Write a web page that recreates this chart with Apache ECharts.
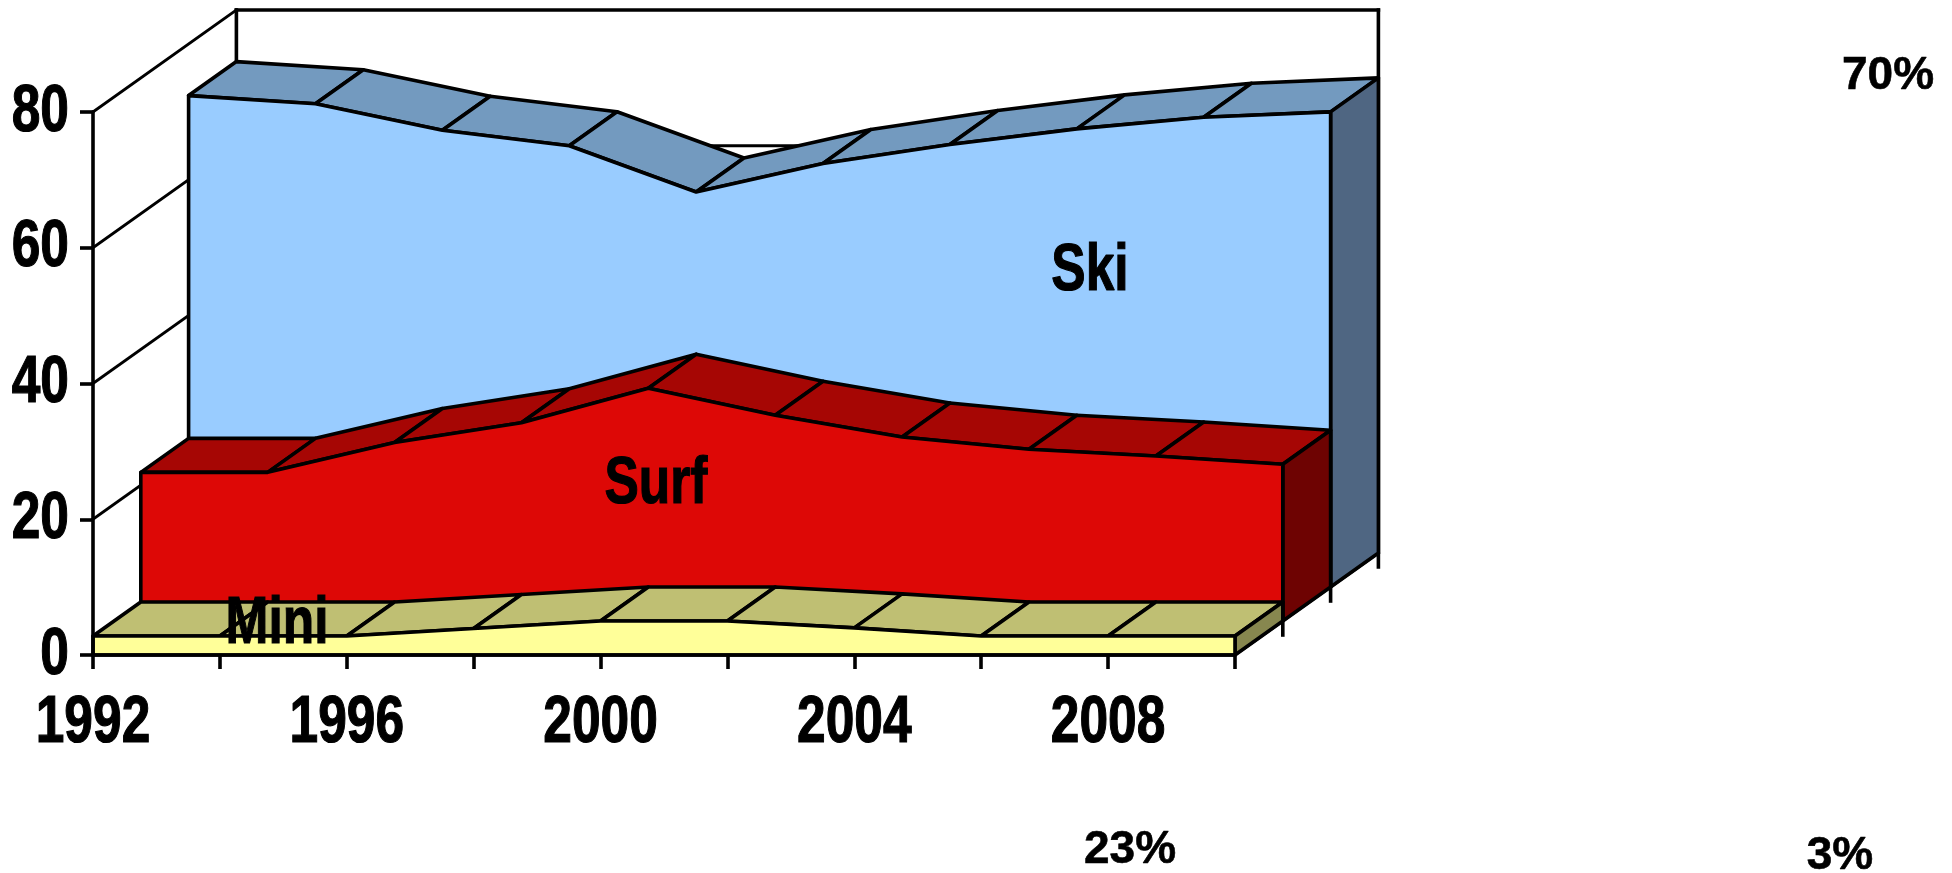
<!DOCTYPE html>
<html>
<head>
<meta charset="utf-8">
<style>html,body{margin:0;padding:0;background:#fff}#c{width:1952px;height:873px}</style>
<script src="https://cdn.jsdelivr.net/npm/echarts@6/dist/echarts.min.js"></script>
</head>
<body>
<div id="c"></div>
<script>
var years = ['1992','1994','1996','1998','2000','2002','2004','2006','2008','2010'];
var xTickLabels = ['1992','','1996','','2000','','2004','','2008',''];
var yTicks = [0, 20, 40, 60, 80];
var ski  = [72.4, 71.2, 67.3, 65.0, 58.2, 62.4, 65.2, 67.5, 69.2, 70.0];
var surf = [21.9, 21.9, 26.3, 29.2, 34.3, 30.3, 27.1, 25.3, 24.3, 23.1];
var mini = [2.8, 2.8, 2.8, 3.9, 5.0, 5.0, 4.0, 2.8, 2.8, 2.8];
var wide = '"Liberation Sans",Arial,sans-serif';
var seriesLabels = [['Ski', 1090, 272], ['Surf', 656, 485], ['Mini', 277, 625]];
var shareLabels = [['70%', 1888, 76], ['23%', 1130, 850], ['3%', 1840, 856]];

var DX = 47.8, DY = -34, LW = 3.6, THIN = 3;
var NARROW_FONT = 'bold 66px ' + wide, NARROW = 0.78;

function off(p, d) { return [p[0] + d * DX, p[1] + d * DY]; }
function lineEl(a, b, w) {
  return {type: 'line', shape: {x1: a[0], y1: a[1], x2: b[0], y2: b[1]},
          style: {stroke: '#000', lineWidth: w || LW, lineCap: 'square'}};
}
function poly(points, fill) {
  return {type: 'polygon', shape: {points: points},
          style: {fill: fill, stroke: '#000', lineWidth: LW, lineJoin: 'round'}};
}
function narrowText(s, x, y, align) {
  return {type: 'text', x: x, y: y, scaleX: NARROW, z2: 50,
          style: {text: s, fill: '#000', font: NARROW_FONT, align: align, verticalAlign: 'middle',
                  stroke: '#000', lineWidth: 1.2}};
}

function wallsRender(params, api) {
  if (params.dataIndex !== 0) return null;
  var kids = [];
  var last = years.length - 1;
  yTicks.forEach(function (t) {
    var a = api.coord([0, t]);
    if (t > 0) kids.push(lineEl(a, off(a, 3), THIN));
    if (t > 0) kids.push(lineEl(off(a, 3), off(api.coord([last, t]), 3), t === 80 ? LW : THIN));
  });
  var top = off(api.coord([0, 80]), 3), base = off(api.coord([0, 0]), 3);
  kids.push(lineEl(top, base, LW));
  var topR = off(api.coord([last, 80]), 3);
  var baseR0 = api.coord([last, 0]);
  var baseR = off(baseR0, 3);
  kids.push(lineEl(topR, [baseR[0], baseR[1] + 14], LW));
  kids.push(lineEl(baseR0, baseR, THIN));
  [1, 2].forEach(function (d) {
    var p = off(baseR0, d);
    kids.push(lineEl(p, [p[0], p[1] + 14], LW));
  });
  return {type: 'group', children: kids};
}

function layerRender(values, depth, front, top, side) {
  return function (params, api) {
    if (params.dataIndex !== 0) return null;
    var kids = [];
    var n = values.length;
    var f = values.map(function (v, i) { return off(api.coord([i, v]), depth); });
    var b = f.map(function (p) { return off(p, 1); });
    for (var i = 0; i < n - 1; i++) {
      kids.push(poly([f[i], f[i + 1], b[i + 1], b[i]], top));
    }
    var base0 = off(api.coord([0, 0]), depth);
    var baseN = off(api.coord([n - 1, 0]), depth);
    kids.push(poly([f[n - 1], b[n - 1], off(baseN, 1), baseN], side));
    kids.push(poly([base0].concat(f, [baseN]), front));
    return {type: 'group', children: kids};
  };
}

function tickLabelRender(params, api) {
  if (params.dataIndex !== 0) return null;
  var kids = [];
  yTicks.forEach(function (t) {
    var p = api.coord([0, t]);
    kids.push(narrowText(String(t), p[0] - 24, p[1] + 0.5, 'right'));
  });
  xTickLabels.forEach(function (s, i) {
    if (!s) return;
    var p = api.coord([i, 0]);
    kids.push(narrowText(s, p[0], p[1] + 69, 'center'));
  });
  return {type: 'group', children: kids};
}

function pairs(arr) { return arr.map(function (v, i) { return [i, v]; }); }

function custom(data, fn) {
  return {type: 'custom', renderItem: fn, data: data, silent: true, animation: false,
          encode: {x: 0, y: 1}, clip: false};
}

var texts = seriesLabels.map(function (t) {
  return {type: 'text', x: t[1], y: t[2], z: 100, silent: true, scaleX: NARROW,
          style: {text: t[0], fill: '#000', font: NARROW_FONT, align: 'center', verticalAlign: 'middle',
                  stroke: '#000', lineWidth: 1.2}};
}).concat(shareLabels.map(function (t) {
  return {type: 'text', x: t[1], y: t[2], z: 100, silent: true,
          style: {text: t[0], fill: '#000', font: 'bold 46px ' + wide, align: 'center', verticalAlign: 'middle',
                  stroke: '#000', lineWidth: 0.6}};
}));

var chart = echarts.init(document.getElementById('c'), null, {renderer: 'canvas'});
chart.setOption({
  animation: false,
  backgroundColor: '#fff',
  tooltip: {show: false},
  legend: {show: false},
  grid: {left: 93, top: 112, width: 1142, height: 543, containLabel: false, outerBoundsMode: 'none'},
  xAxis: {
    type: 'category', data: years, boundaryGap: false, z: 10,
    axisLine: {show: true, onZero: false, lineStyle: {color: '#000', width: LW}},
    axisTick: {show: true, interval: 0, length: 14, lineStyle: {color: '#000', width: LW}},
    axisLabel: {show: false},
    splitLine: {show: false}
  },
  yAxis: {
    type: 'value', min: 0, max: 80, interval: 20, z: 10,
    axisLine: {show: true, lineStyle: {color: '#000', width: LW}},
    axisTick: {show: true, length: 13, lineStyle: {color: '#000', width: LW}},
    axisLabel: {show: false},
    splitLine: {show: false}
  },
  graphic: {elements: texts},
  series: [
    custom(pairs(yTicks), wallsRender),
    custom(pairs(ski), layerRender(ski, 2, '#99CCFF', '#739ABF', '#4F6682')),
    custom(pairs(surf), layerRender(surf, 1, '#DD0806', '#A60604', '#6E0302')),
    custom(pairs(mini), layerRender(mini, 0, '#FFFF99', '#BFBF73', '#87874F')),
    custom(pairs(yTicks), tickLabelRender)
  ]
});
</script>
</body>
</html>
